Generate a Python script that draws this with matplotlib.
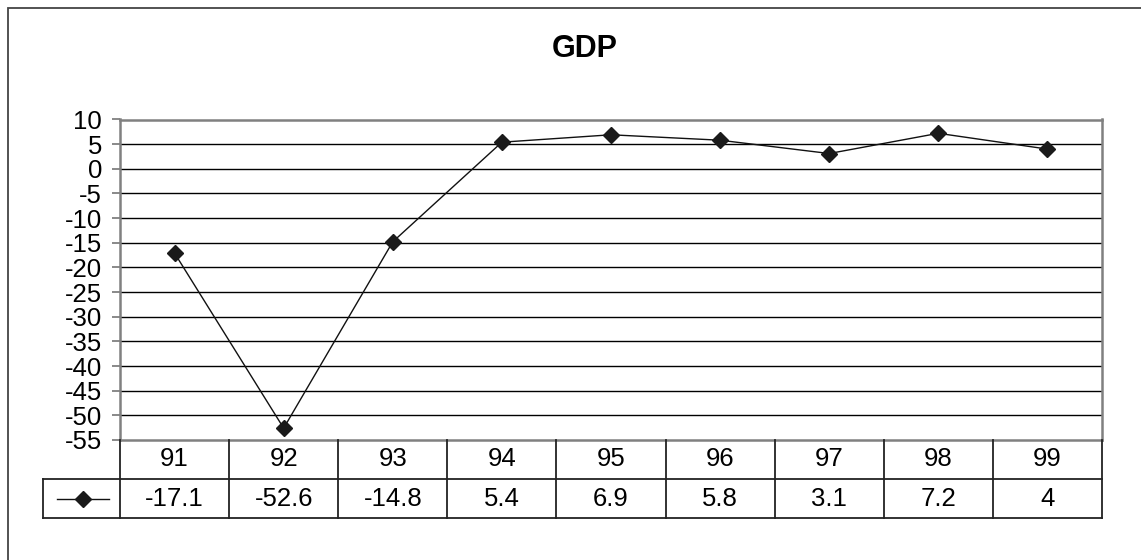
import matplotlib.pyplot as plt
from matplotlib.lines import Line2D
from matplotlib.patches import Rectangle

# GDP growth by year
years = ["91", "92", "93", "94", "95", "96", "97", "98", "99"]
gdp = [-17.1, -52.6, -14.8, 5.4, 6.9, 5.8, 3.1, 7.2, 4]
value_labels = ["-17.1", "-52.6", "-14.8", "5.4", "6.9", "5.8", "3.1", "7.2", "4"]
y_ticks = list(range(10, -60, -5))

plt.rcParams["font.family"] = ["Liberation Sans", "DejaVu Sans"]

W, H = 1141, 560
fig = plt.figure(figsize=(W / 100, H / 100), dpi=100)


def px_box(x0, y0, x1, y1):
    # pixel box (top-left origin) -> figure fraction rect
    return [x0 / W, 1 - y1 / H, (x1 - x0) / W, (y1 - y0) / H]


# Outer chart frame
fig.patches.append(Rectangle((7.5 / W, -0.1), 1.2, 1 - 7.5 / H + 0.1,
                             transform=fig.transFigure, fill=False,
                             edgecolor="#444444", linewidth=1.3))

ax = fig.add_axes(px_box(120, 119.5, 1102, 440))
x = list(range(len(years)))
ax.plot(x, gdp, color="#111111", linewidth=1.0, marker="D",
        markersize=8.5, markerfacecolor="#1a1a1a", markeredgecolor="#1a1a1a",
        zorder=3)
ax.set_xlim(-0.5, len(years) - 0.5)
ax.set_ylim(-55, 10)
ax.set_yticks(y_ticks)
ax.set_yticklabels([str(t) for t in y_ticks], fontsize=18.5)
ax.set_xticks([])
ax.tick_params(axis="y", length=6, width=1.3, color="#808080", pad=7)
for t in y_ticks[1:-1]:
    ax.axhline(t, color="black", linewidth=1.0, zorder=1)
for s in ax.spines.values():
    s.set_color("#808080")
    s.set_linewidth(1.8)

fig.text(585 / W, 1 - 49 / H, "GDP", fontsize=22, fontweight="bold",
         ha="center", va="center")

# Data table below the plot
tab = fig.add_axes(px_box(120, 440, 1102, 518))
tab.set_xlim(-0.5, len(years) - 0.5)
tab.set_ylim(0, 2)
tab.axis("off")
legend_w = 77 / (982 / len(years))
left_edge = -0.5 - legend_w
kw = dict(color="#222222", linewidth=1.3, clip_on=False)
tab.plot([left_edge, len(years) - 0.5], [0, 0], **kw)
tab.plot([left_edge, len(years) - 0.5], [1, 1], **kw)
tab.plot([left_edge, left_edge], [0, 1], **kw)
for i in range(len(years) + 1):
    tab.plot([i - 0.5, i - 0.5], [0, 2], **kw)
for i, (yr, v) in enumerate(zip(years, value_labels)):
    tab.text(i, 1.5, yr, fontsize=18.5, ha="center", va="center")
    tab.text(i, 0.5, v, fontsize=18.5, ha="center", va="center")

# Legend key in the first cell
kx0 = left_edge + 0.13
kx1 = -0.5 - 0.1
tab.add_line(Line2D([kx0, kx1], [0.5, 0.5], color="#111111", linewidth=1.0,
                    clip_on=False))
tab.plot([(kx0 + kx1) / 2], [0.5], marker="D", markersize=8.5,
         color="#1a1a1a", clip_on=False)

fig.savefig("out.png", dpi=100)
